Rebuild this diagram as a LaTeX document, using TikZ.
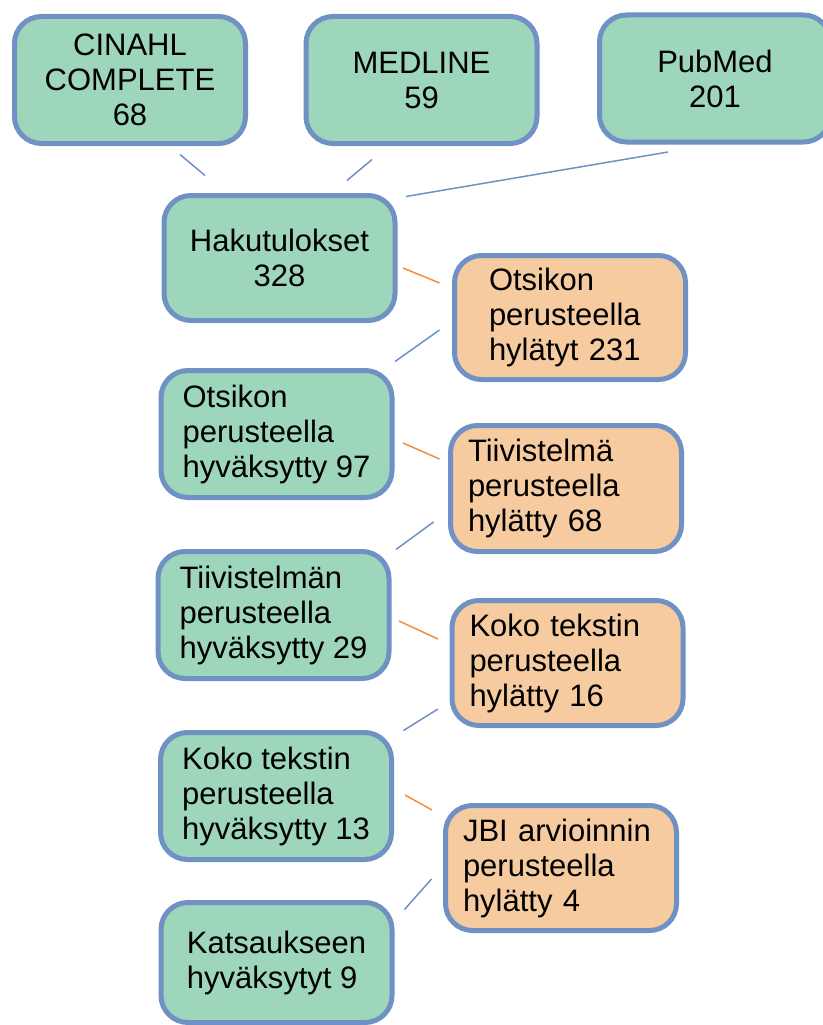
\documentclass[tikz,border=0pt]{standalone}
\usepackage{fontspec}
\setmainfont{Liberation Sans}
\usepackage{tikz}
\usetikzlibrary{calc}
\definecolor{myblue}{RGB}{111,145,196}
\definecolor{mygreen}{RGB}{157,214,187}
\definecolor{myorange}{RGB}{246,203,160}
\definecolor{myline}{RGB}{247,140,60}
\tikzset{
  dbbox/.style={rectangle, draw=myblue, fill=mygreen,
    minimum width=231pt, minimum height=127pt, inner sep=0pt,
    rounded corners=27pt, line width=5pt, align=center,
    font=\fontsize{31}{35}\selectfont},
  keepbox/.style={dbbox, align=left},
  dropbox/.style={dbbox, fill=myorange, align=left, text width=196pt},
  blueline/.style={draw=myblue, line width=1.5pt},
  redline/.style={draw=myline, line width=1.5pt}
}

\begin{document}
\begin{tikzpicture}[x=1pt, y=-1pt]
  \useasboundingbox (0,0) rectangle (822,1025);

  % Databases
  \node[dbbox] (cinahl) at (130,80) {CINAHL\\COMPLETE\\68};
  \node[dbbox] (medline) at (421.5,80) {MEDLINE\\59};
  \node[dbbox] (pubmed) at (715,78.5) {PubMed\\201};

  % Accepted column
  \node[dbbox, minimum height=125pt] (haku) at (279.5,258) {Hakutulokset\\328};
  \node[keepbox] (acc1) at (276.5,434) {Otsikon\\perusteella\\hyväksytty 97};
  \node[keepbox] (acc2) at (273.5,615) {Tiivistelmän\\perusteella\\hyväksytty 29};
  \node[keepbox] (acc3) at (276,796) {Koko tekstin\\perusteella\\hyväksytty 13};
  \node[keepbox, minimum height=120pt] (final) at (276.5,962.5) {Katsaukseen\\hyväksytyt 9};

  % Rejected column
  \node[dropbox, text width=162pt, minimum height=124pt] (rej1) at (570,317.5) {Otsikon\\perusteella\\hylätyt 231};
  \node[dropbox, minimum height=126pt] (rej2) at (566,488.5) {Tiivistelmä\\perusteella\\hylätty 68};
  \node[dropbox, minimum height=125pt] (rej3) at (567.5,663) {Koko tekstin\\perusteella\\hylätty 16};
  \node[dropbox, minimum height=125pt] (rej4) at (561,868) {JBI arvioinnin\\perusteella\\hylätty 4};

  % Links
  \draw[blueline] ($(cinahl.south)+(50,8.5)$) -- ($(haku.north)+(-74.5,-17.5)$);
  \draw[blueline] ($(medline.south)+(-49.5,13.5)$) -- ($(haku.north)+(67.5,-12.5)$);
  \draw[blueline] ($(pubmed.south)+(-47,7.5)$) -- ($(haku.north east)+(8.5,3.5)$);

  \draw[redline] ($(haku.east)+(5.5,10)$) -- ($(rej1.west)+(-12.5,-34.5)$);
  \draw[blueline] ($(rej1.west)+(-12.5,12.5)$) -- ($(acc1.north east)+(0.5,-6.5)$);
  \draw[redline] ($(acc1.east)+(8.5,9)$) -- ($(rej2.west)+(-8.5,-29.5)$);
  \draw[blueline] ($(rej2.west)+(-14.5,33.5)$) -- ($(acc2.north east)+(4.5,0.5)$);
  \draw[redline] ($(acc2.east)+(7.5,6)$) -- ($(rej3.west)+(-11.5,-24)$);
  \draw[blueline] ($(rej3.west)+(-11.5,46)$) -- ($(acc3.north east)+(9.5,0.5)$);
  \draw[redline] ($(acc3.east)+(11,-1)$) -- ($(rej4.west)+(-11,-58)$);
  \draw[blueline] ($(rej4.west)+(-11.5,11)$) -- ($(final.north east)+(10,9.5)$);
\end{tikzpicture}
\end{document}
